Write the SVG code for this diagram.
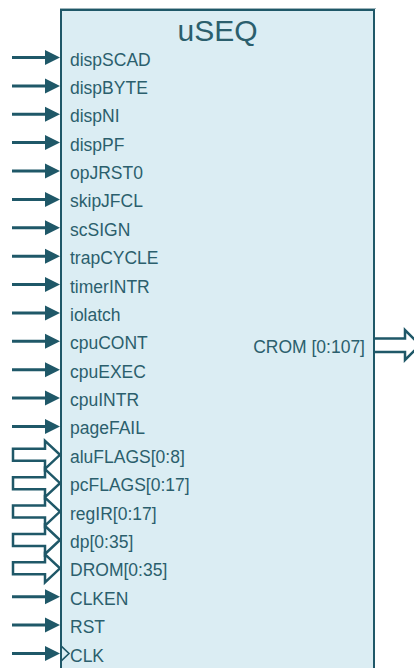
<svg xmlns="http://www.w3.org/2000/svg" width="414" height="668" viewBox="0 0 414 668">
  <style>
    .lbl { font-family: "Liberation Sans", Arial, sans-serif; font-size: 17.5px; fill: #2b5f6d; }
    .title { font-family: "Liberation Sans", Arial, sans-serif; font-size: 30px; fill: #2b5f6d; text-anchor: middle; }
    .wire { stroke: #1f5868; stroke-width: 3; fill: none; }
    .head { fill: #1f5868; }
    .bus { stroke: #1f5868; stroke-width: 2.5; fill: #ffffff; stroke-linejoin: miter; }
    .clk { stroke: #1f5868; stroke-width: 1.6; fill: none; }
  </style>
  <defs>
    <!-- single-bit input pin, drawn at y=0 -->
    <g id="pin">
      <line class="wire" x1="12" y1="0" x2="46" y2="0"/>
      <polygon class="head" points="45,-7.5 60,0 45,7.5"/>
    </g>
    <!-- bus input pin, drawn at y=0 -->
    <path id="buspin" class="bus" d="M13,-6 H45 V-14 L60,0 L45,14 V6 H13 Z"/>
  </defs>

  <!-- block -->
  <g id="useq">
    <line x1="60" y1="8.5" x2="376" y2="8.5" stroke="#9db4ba" stroke-width="1"/>
    <rect x="61" y="10" width="313" height="700" fill="#dbedf3" stroke="#1f5868" stroke-width="2"/>
    <text class="title" x="217.5" y="41">uSEQ</text>
  </g>

  <!-- connectors -->
  <g id="connectors">
    <use href="#pin" y="57.5"/>
    <use href="#pin" y="85.9"/>
    <use href="#pin" y="114.3"/>
    <use href="#pin" y="142.6"/>
    <use href="#pin" y="171.0"/>
    <use href="#pin" y="199.4"/>
    <use href="#pin" y="227.8"/>
    <use href="#pin" y="256.2"/>
    <use href="#pin" y="284.5"/>
    <use href="#pin" y="312.9"/>
    <use href="#pin" y="341.3"/>
    <use href="#pin" y="369.7"/>
    <use href="#pin" y="398.1"/>
    <use href="#pin" y="426.4"/>
    <use href="#buspin" y="454.8"/>
    <use href="#buspin" y="483.2"/>
    <use href="#buspin" y="511.6"/>
    <use href="#buspin" y="540.0"/>
    <use href="#buspin" y="568.3"/>
    <use href="#pin" y="596.7"/>
    <use href="#pin" y="625.1"/>
    <use href="#pin" y="653.5"/>
    <!-- clock marker -->
    <polyline class="clk" points="61,645.8 69,653.5 61,661.2"/>
    <!-- CROM output bus -->
    <path class="bus" d="M375,338.5 H405 V330 L420,345 L405,360 V352 H375"/>
  </g>

  <!-- pin labels -->
  <g id="labels">
    <text class="lbl" x="70" y="65.5">dispSCAD</text>
    <text class="lbl" x="70" y="93.9">dispBYTE</text>
    <text class="lbl" x="70" y="122.3">dispNI</text>
    <text class="lbl" x="70" y="150.6">dispPF</text>
    <text class="lbl" x="70" y="179">opJRST0</text>
    <text class="lbl" x="70" y="207.4">skipJFCL</text>
    <text class="lbl" x="70" y="235.8">scSIGN</text>
    <text class="lbl" x="70" y="264.2">trapCYCLE</text>
    <text class="lbl" x="70" y="292.5">timerINTR</text>
    <text class="lbl" x="70" y="320.9">iolatch</text>
    <text class="lbl" x="70" y="349.3">cpuCONT</text>
    <text class="lbl" x="70" y="377.7">cpuEXEC</text>
    <text class="lbl" x="70" y="406.1">cpuINTR</text>
    <text class="lbl" x="70" y="434.4">pageFAIL</text>
    <text class="lbl" x="70" y="462.8">aluFLAGS[0:8]</text>
    <text class="lbl" x="70" y="491.2">pcFLAGS[0:17]</text>
    <text class="lbl" x="70" y="519.6">regIR[0:17]</text>
    <text class="lbl" x="70" y="548">dp[0:35]</text>
    <text class="lbl" x="70" y="576.3">DROM[0:35]</text>
    <text class="lbl" x="70" y="604.7">CLKEN</text>
    <text class="lbl" x="70" y="633.1">RST</text>
    <text class="lbl" x="70" y="661.5">CLK</text>
    <text class="lbl" x="365" y="352.5" text-anchor="end">CROM [0:107]</text>
  </g>
</svg>
